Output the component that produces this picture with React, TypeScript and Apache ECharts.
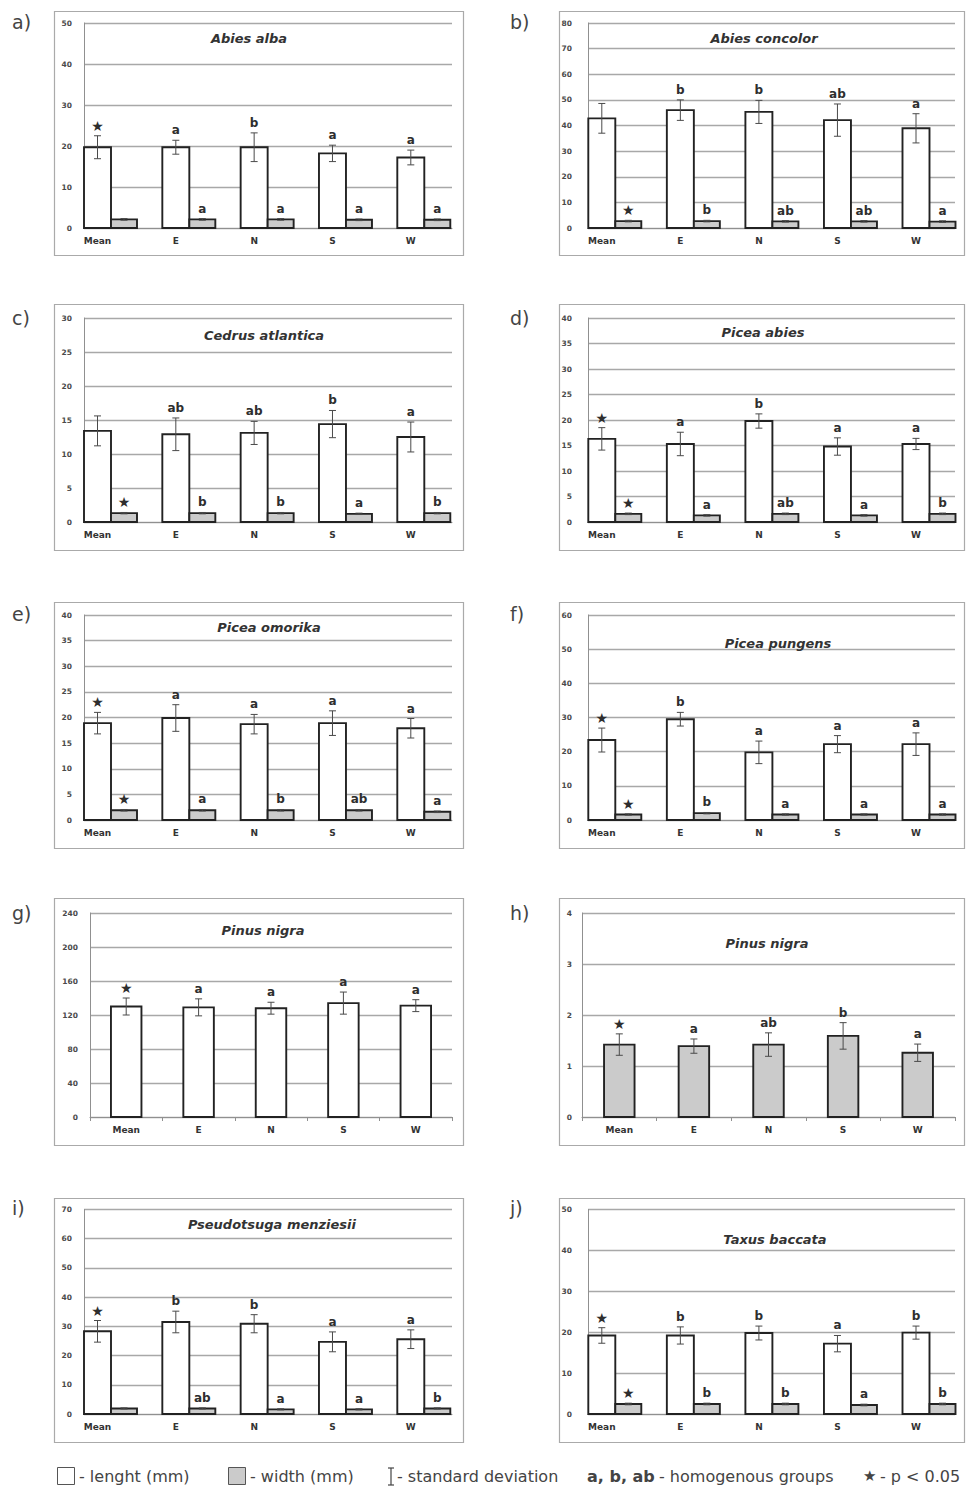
import React, { useEffect, useRef } from "react";
import * as echarts from "echarts";

const categories = ["Mean", "E", "N", "S", "W"];

// a) Abies alba
const abiesAlbaLength = [19.7, 19.7, 19.7, 18.2, 17.2];
const abiesAlbaLengthSD = [2.8, 1.7, 3.5, 2.0, 1.8];
const abiesAlbaWidth = [2.1, 2.1, 2.1, 2.0, 2.0];
const abiesAlbaWidthSD = [0.2, 0.2, 0.2, 0.2, 0.2];
const abiesAlbaLengthGroups = ["★", "a", "b", "a", "a"];
const abiesAlbaWidthGroups = ["", "a", "a", "a", "a"];

// b) Abies concolor
const abiesConcolorLength = [42.8, 46.0, 45.3, 42.1, 38.9];
const abiesConcolorLengthSD = [5.8, 4.0, 4.5, 6.3, 5.7];
const abiesConcolorWidth = [2.7, 2.7, 2.6, 2.6, 2.5];
const abiesConcolorWidthSD = [0.3, 0.3, 0.3, 0.3, 0.3];
const abiesConcolorLengthGroups = ["", "b", "b", "ab", "a"];
const abiesConcolorWidthGroups = ["★", "b", "ab", "ab", "a"];

// c) Cedrus atlantica
const cedrusLength = [13.4, 12.9, 13.1, 14.4, 12.5];
const cedrusLengthSD = [2.2, 2.4, 1.7, 2.0, 2.2];
const cedrusWidth = [1.3, 1.3, 1.3, 1.2, 1.3];
const cedrusWidthSD = [0.1, 0.1, 0.1, 0.1, 0.1];
const cedrusLengthGroups = ["", "ab", "ab", "b", "a"];
const cedrusWidthGroups = ["★", "b", "b", "a", "b"];

// d) Picea abies
const piceaAbiesLength = [16.3, 15.3, 19.8, 14.8, 15.3];
const piceaAbiesLengthSD = [2.2, 2.3, 1.4, 1.7, 1.1];
const piceaAbiesWidth = [1.6, 1.3, 1.6, 1.3, 1.6];
const piceaAbiesWidthSD = [0.15, 0.15, 0.15, 0.15, 0.15];
const piceaAbiesLengthGroups = ["★", "a", "b", "a", "a"];
const piceaAbiesWidthGroups = ["★", "a", "ab", "a", "b"];

// e) Picea omorika
const piceaOmorikaLength = [18.9, 19.9, 18.7, 18.9, 17.9];
const piceaOmorikaLengthSD = [2.1, 2.6, 1.9, 2.4, 1.9];
const piceaOmorikaWidth = [1.9, 1.9, 1.9, 1.9, 1.6];
const piceaOmorikaWidthSD = [0.15, 0.15, 0.15, 0.15, 0.15];
const piceaOmorikaLengthGroups = ["★", "a", "a", "a", "a"];
const piceaOmorikaWidthGroups = ["★", "a", "b", "ab", "a"];

// f) Picea pungens
const piceaPungensLength = [23.4, 29.5, 19.8, 22.2, 22.2];
const piceaPungensLengthSD = [3.5, 2.0, 3.3, 2.5, 3.3];
const piceaPungensWidth = [1.6, 2.0, 1.6, 1.6, 1.6];
const piceaPungensWidthSD = [0.2, 0.2, 0.2, 0.2, 0.2];
const piceaPungensLengthGroups = ["★", "b", "a", "a", "a"];
const piceaPungensWidthGroups = ["★", "b", "a", "a", "a"];

// g) Pinus nigra (length)
const pinusNigraLength = [130, 129, 128, 134, 131];
const pinusNigraLengthSD = [10, 10, 7, 13, 7];
const pinusNigraLengthGroups = ["★", "a", "a", "a", "a"];

// h) Pinus nigra (width)
const pinusNigraWidth = [1.42, 1.39, 1.42, 1.59, 1.26];
const pinusNigraWidthSD = [0.21, 0.14, 0.23, 0.26, 0.17];
const pinusNigraWidthGroups = ["★", "a", "ab", "b", "a"];

// i) Pseudotsuga menziesii
const pseudotsugaLength = [28.3, 31.5, 30.9, 24.7, 25.6];
const pseudotsugaLengthSD = [3.7, 3.7, 3.1, 3.4, 3.2];
const pseudotsugaWidth = [1.9, 1.9, 1.6, 1.6, 1.9];
const pseudotsugaWidthSD = [0.2, 0.2, 0.2, 0.2, 0.2];
const pseudotsugaLengthGroups = ["★", "b", "b", "a", "a"];
const pseudotsugaWidthGroups = ["", "ab", "a", "a", "b"];

// j) Taxus baccata
const taxusLength = [19.2, 19.2, 19.8, 17.2, 19.9];
const taxusLengthSD = [1.9, 2.1, 1.7, 2.0, 1.6];
const taxusWidth = [2.45, 2.45, 2.45, 2.2, 2.45];
const taxusWidthSD = [0.2, 0.2, 0.2, 0.2, 0.2];
const taxusLengthGroups = ["★", "b", "b", "a", "b"];
const taxusWidthGroups = ["★", "b", "b", "a", "b"];

// y-axis scales (max, step)
const yMaxes = [50, 80, 30, 40, 40, 60, 240, 4, 70, 50];
const ySteps = [10, 10, 5, 5, 5, 10, 40, 1, 10, 10];

const panelLetters = ["a)", "b)", "c)", "d)", "e)", "f)", "g)", "h)", "i)", "j)"];
const panelTitles = [
  "Abies alba",
  "Abies concolor",
  "Cedrus atlantica",
  "Picea abies",
  "Picea omorika",
  "Picea pungens",
  "Pinus nigra",
  "Pinus nigra",
  "Pseudotsuga menziesii",
  "Taxus baccata",
];

type Panel = {
  length?: number[];
  lengthSD?: number[];
  width?: number[];
  widthSD?: number[];
  lengthGroups?: string[];
  widthGroups?: string[];
};

const panels: Panel[] = [
  { length: abiesAlbaLength, lengthSD: abiesAlbaLengthSD, width: abiesAlbaWidth, widthSD: abiesAlbaWidthSD, lengthGroups: abiesAlbaLengthGroups, widthGroups: abiesAlbaWidthGroups },
  { length: abiesConcolorLength, lengthSD: abiesConcolorLengthSD, width: abiesConcolorWidth, widthSD: abiesConcolorWidthSD, lengthGroups: abiesConcolorLengthGroups, widthGroups: abiesConcolorWidthGroups },
  { length: cedrusLength, lengthSD: cedrusLengthSD, width: cedrusWidth, widthSD: cedrusWidthSD, lengthGroups: cedrusLengthGroups, widthGroups: cedrusWidthGroups },
  { length: piceaAbiesLength, lengthSD: piceaAbiesLengthSD, width: piceaAbiesWidth, widthSD: piceaAbiesWidthSD, lengthGroups: piceaAbiesLengthGroups, widthGroups: piceaAbiesWidthGroups },
  { length: piceaOmorikaLength, lengthSD: piceaOmorikaLengthSD, width: piceaOmorikaWidth, widthSD: piceaOmorikaWidthSD, lengthGroups: piceaOmorikaLengthGroups, widthGroups: piceaOmorikaWidthGroups },
  { length: piceaPungensLength, lengthSD: piceaPungensLengthSD, width: piceaPungensWidth, widthSD: piceaPungensWidthSD, lengthGroups: piceaPungensLengthGroups, widthGroups: piceaPungensWidthGroups },
  { length: pinusNigraLength, lengthSD: pinusNigraLengthSD, lengthGroups: pinusNigraLengthGroups },
  { width: pinusNigraWidth, widthSD: pinusNigraWidthSD, widthGroups: pinusNigraWidthGroups },
  { length: pseudotsugaLength, lengthSD: pseudotsugaLengthSD, width: pseudotsugaWidth, widthSD: pseudotsugaWidthSD, lengthGroups: pseudotsugaLengthGroups, widthGroups: pseudotsugaWidthGroups },
  { length: taxusLength, lengthSD: taxusLengthSD, width: taxusWidth, widthSD: taxusWidthSD, lengthGroups: taxusLengthGroups, widthGroups: taxusWidthGroups },
];

// ---------- layout (positions / sizes) ----------
const FONT = "'DejaVu Sans', 'Liberation Sans', sans-serif";
const columns = [
  { frameX: [54, 463], axisX: 84, plotR: 452, barsL: 97.5, barsR: 410.8, labelX: 12, yMargin: 12 },
  { frameX: [559, 964], axisX: 588, plotR: 955, barsL: 601.8, barsR: 916, labelX: 510, yMargin: 16 },
];
const rows = [
  { frameY: [11, 255], top: 23, bottom: 228, labelY: 22 },
  { frameY: [304, 550], top: 318, bottom: 522, labelY: 318 },
  { frameY: [602, 848], top: 615, bottom: 820, labelY: 614 },
  { frameY: [898, 1145], top: 913, bottom: 1117, labelY: 913 },
  { frameY: [1198, 1442], top: 1209.5, bottom: 1414, labelY: 1208 },
];
const layouts: any[] = [
  { col: 0, row: 0, titleX: 249, titleY: 38 },
  { col: 1, row: 0, titleX: 764, titleY: 38 },
  { col: 0, row: 1, titleX: 264, titleY: 335 },
  { col: 1, row: 1, titleX: 763, titleY: 332 },
  { col: 0, row: 2, titleX: 269, titleY: 627 },
  { col: 1, row: 2, titleX: 778, titleY: 643 },
  { col: 0, row: 3, titleX: 263, titleY: 930, axisX: 90 },
  { col: 1, row: 3, titleX: 767, titleY: 943, axisX: 582, yMargin: 10 },
  { col: 0, row: 4, titleX: 272, titleY: 1224 },
  { col: 1, row: 4, titleX: 775, titleY: 1239 },
];

const LEN_W = 27;
const WID_W = 26;
const SINGLE_W = 30.5;

function errorBar(cx: number, yTop: number, yBot: number) {
  const cap = 3.5;
  const st = { stroke: "#4a4a4a", lineWidth: 1 };
  return [
    { type: "line", shape: { x1: cx, y1: yTop, x2: cx, y2: yBot }, style: st },
    { type: "line", shape: { x1: cx - cap, y1: yTop, x2: cx + cap, y2: yTop }, style: st },
    { type: "line", shape: { x1: cx - cap, y1: yBot, x2: cx + cap, y2: yBot }, style: st },
  ];
}

function groupText(cx: number, y: number, text: string) {
  const star = text === "★";
  return {
    type: "text",
    style: {
      x: cx,
      y: y - (star ? 3 : 4),
      text,
      fill: "#2e2e2e",
      fontSize: star ? 14 : 12,
      fontWeight: "bold",
      fontFamily: FONT,
      align: "center",
      verticalAlign: "bottom",
    },
  };
}

function makeRenderItem(p: Panel) {
  return (params: any, api: any) => {
    const i = params.dataIndex;
    const base = api.coord([i, 0]);
    const cx = base[0];
    const y0 = base[1];
    const single = !(p.length && p.width);
    const items: any[] = [];
    const bars: any[] = [];
    if (p.length) {
      bars.push({ v: p.length[i], sd: p.lengthSD![i], g: p.lengthGroups![i], fill: "#ffffff" });
    }
    if (p.width) {
      bars.push({ v: p.width[i], sd: p.widthSD![i], g: p.widthGroups![i], fill: "#cbcbcb" });
    }
    let x = single ? cx - SINGLE_W / 2 : cx - LEN_W / 2;
    bars.forEach((b, k) => {
      const w = single ? SINGLE_W : k === 0 ? LEN_W : WID_W;
      const yv = api.coord([i, b.v])[1];
      const yt = api.coord([i, b.v + b.sd])[1];
      const yb = api.coord([i, b.v - b.sd])[1];
      items.push({
        type: "rect",
        shape: { x, y: yv, width: w, height: y0 - yv },
        style: { fill: b.fill, stroke: "#222", lineWidth: 1.9 },
      });
      const bc = x + w / 2;
      items.push(...errorBar(bc, yt, yb));
      if (b.g) items.push(groupText(bc, yt, b.g));
      x += w;
    });
    return { type: "group", children: items };
  };
}

function buildOption() {
  const grids: any[] = [];
  const xAxes: any[] = [];
  const yAxes: any[] = [];
  const series: any[] = [];
  const graphics: any[] = [];

  const catLabel = {
    show: true,
    interval: 0,
    fontSize: 9,
    fontWeight: "bold",
    fontFamily: FONT,
    color: "#333",
    margin: 8,
  };

  panels.forEach((p, k) => {
    const lay = layouts[k];
    const col = columns[lay.col];
    const row = rows[lay.row];
    const axisX = lay.axisX ?? col.axisX;
    const yMargin = lay.yMargin ?? col.yMargin;
    const single = !(p.length && p.width);
    const h = row.bottom - row.top;

    const fIdx = grids.length;
    grids.push({ left: axisX, top: row.top, width: col.plotR - axisX, height: h });
    xAxes.push({
      gridIndex: fIdx,
      type: "category",
      data: categories,
      boundaryGap: true,
      axisLine: { show: true, lineStyle: { color: "#909090", width: 1 } },
      axisTick: { show: single, length: 4, lineStyle: { color: "#909090" } },
      axisLabel: { ...catLabel, show: single },
      splitLine: { show: false },
    });
    yAxes.push({
      gridIndex: fIdx,
      type: "value",
      min: 0,
      max: yMaxes[k],
      interval: ySteps[k],
      axisLine: { show: true, lineStyle: { color: "#909090", width: 1 } },
      axisTick: { show: false },
      axisLabel: {
        fontSize: 7.5,
        fontWeight: "bold",
        fontFamily: FONT,
        color: "#4a4a4a",
        margin: yMargin,
      },
      splitLine: { show: true, lineStyle: { color: "#a8a8a8", width: 1.3 } },
    });

    let bIdx = fIdx;
    if (!single) {
      bIdx = grids.length;
      grids.push({ left: col.barsL, top: row.top, width: col.barsR - col.barsL, height: h });
      xAxes.push({
        gridIndex: bIdx,
        type: "category",
        data: categories,
        boundaryGap: false,
        axisLine: { show: false },
        axisTick: { show: false },
        axisLabel: catLabel,
        splitLine: { show: false },
      });
      yAxes.push({ gridIndex: bIdx, type: "value", min: 0, max: yMaxes[k], interval: ySteps[k], show: false });
    }

    series.push({
      type: "custom",
      coordinateSystem: "cartesian2d",
      xAxisIndex: bIdx,
      yAxisIndex: bIdx,
      clip: false,
      z: 3,
      data: categories.map((c, i) => [i, p.length ? p.length[i] : p.width![i]]),
      renderItem: makeRenderItem(p),
    });

    // frame
    graphics.push({
      type: "rect",
      silent: true,
      z: -1,
      shape: {
        x: col.frameX[0] + 0.5,
        y: row.frameY[0] + 0.5,
        width: col.frameX[1] - col.frameX[0],
        height: row.frameY[1] - row.frameY[0],
      },
      style: { fill: "rgba(0,0,0,0)", stroke: "#aaaaaa", lineWidth: 1.2 },
    });
    // panel letter
    graphics.push({
      type: "text",
      silent: true,
      style: {
        x: col.labelX,
        y: row.labelY,
        text: panelLetters[k],
        fill: "#444",
        fontSize: 19,
        fontFamily: FONT,
        align: "left",
        textAlign: "left",
        verticalAlign: "middle",
        textVerticalAlign: "middle",
      },
    });
    // title
    graphics.push({
      type: "text",
      silent: true,
      z: 5,
      style: {
        x: lay.titleX,
        y: lay.titleY,
        text: panelTitles[k],
        fill: "#333",
        fontSize: 13,
        fontWeight: "bold",
        fontStyle: "italic",
        fontFamily: FONT,
        align: "center",
        textAlign: "center",
        verticalAlign: "middle",
        textVerticalAlign: "middle",
      },
    });
  });

  // legend
  const ly = 1476;
  const legendText = (x: number, text: string, bold = false, size = 16) => ({
    type: "text",
    silent: true,
    style: {
      x,
      y: ly,
      text,
      fill: "#444",
      fontSize: size,
      fontWeight: bold ? "bold" : "normal",
      fontFamily: FONT,
      align: "left",
      textAlign: "left",
      verticalAlign: "middle",
      textVerticalAlign: "middle",
    },
  });
  graphics.push(
    { type: "rect", silent: true, shape: { x: 57.5, y: 1467.5, width: 17, height: 17 }, style: { fill: "#fff", stroke: "#555", lineWidth: 1 } },
    legendText(79, "- lenght (mm)"),
    { type: "rect", silent: true, shape: { x: 228.5, y: 1467.5, width: 17, height: 17 }, style: { fill: "#cbcbcb", stroke: "#555", lineWidth: 1 } },
    legendText(250, "- width (mm)"),
    { type: "line", silent: true, shape: { x1: 391, y1: 1468, x2: 391, y2: 1485 }, style: { stroke: "#444", lineWidth: 1.2 } },
    { type: "line", silent: true, shape: { x1: 388, y1: 1468, x2: 394, y2: 1468 }, style: { stroke: "#444", lineWidth: 1.2 } },
    { type: "line", silent: true, shape: { x1: 388, y1: 1485, x2: 394, y2: 1485 }, style: { stroke: "#444", lineWidth: 1.2 } },
    legendText(397, "- standard deviation"),
    legendText(587, "a, b, ab", true),
    legendText(659, "- homogenous groups"),
    legendText(863, "★", false, 15),
    legendText(880, "- p < 0.05")
  );

  return {
    animation: false,
    backgroundColor: "#ffffff",
    grid: grids,
    xAxis: xAxes,
    yAxis: yAxes,
    series,
    graphic: graphics,
  };
}

export default function App() {
  const ref = useRef<HTMLDivElement>(null);
  useEffect(() => {
    if (!ref.current) return;
    const chart = echarts.init(ref.current, undefined, { renderer: "svg" });
    chart.setOption(buildOption() as any);
    return () => {
      chart.dispose();
    };
  }, []);
  return (
    <div
      ref={ref}
      style={{ position: "absolute", left: 0, top: 0, width: 968, height: 1488, background: "#fff" }}
    />
  );
}
